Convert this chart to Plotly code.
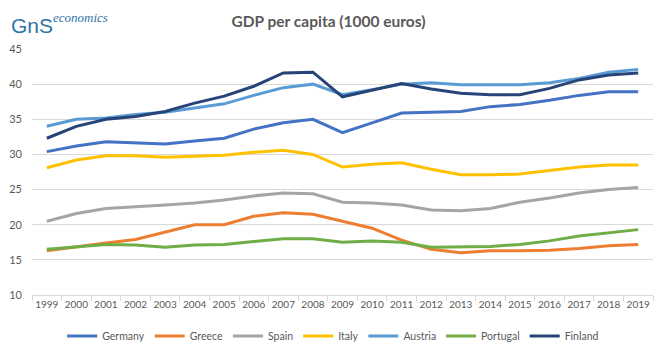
import plotly.graph_objects as go

years = list(range(1999, 2020))
germany = [30.4, 31.2, 31.8, 31.7, 31.5, 31.9, 32.3, 33.6, 34.5, 35.0, 33.1, 34.5, 35.9, 36.0, 36.1, 36.8, 37.1, 37.7, 38.4, 38.9, 38.9]
greece = [16.3, 16.9, 17.4, 17.9, 19.0, 20.0, 20.0, 21.2, 21.7, 21.5, 20.5, 19.5, 17.8, 16.5, 16.0, 16.3, 16.3, 16.35, 16.6, 17.0, 17.2]
spain = [20.5, 21.6, 22.3, 22.5, 22.8, 23.1, 23.5, 24.1, 24.5, 24.4, 23.2, 23.1, 22.8, 22.1, 22.0, 22.3, 23.2, 23.8, 24.5, 25.0, 25.3]
italy = [28.1, 29.2, 29.8, 29.8, 29.6, 29.7, 29.9, 30.3, 30.6, 30.0, 28.2, 28.6, 28.8, 27.9, 27.1, 27.1, 27.2, 27.7, 28.2, 28.5, 28.5]
austria = [34.0, 35.0, 35.2, 35.7, 36.0, 36.6, 37.2, 38.4, 39.5, 40.0, 38.5, 39.2, 40.0, 40.2, 39.9, 39.9, 39.9, 40.2, 40.8, 41.7, 42.1]
portugal = [16.5, 16.9, 17.2, 17.1, 16.8, 17.1, 17.2, 17.6, 18.0, 18.0, 17.5, 17.7, 17.5, 16.8, 16.8, 16.9, 17.2, 17.7, 18.4, 18.8, 19.3]
finland = [32.3, 34.0, 35.0, 35.4, 36.1, 37.3, 38.3, 39.7, 41.6, 41.7, 38.2, 39.2, 40.1, 39.3, 38.7, 38.5, 38.5, 39.4, 40.6, 41.3, 41.6]

series = [
    ("Germany", germany, "#4472C4"),
    ("Greece", greece, "#ED7D31"),
    ("Spain", spain, "#A5A5A5"),
    ("Italy", italy, "#FFC000"),
    ("Austria", austria, "#5B9BD5"),
    ("Portugal", portugal, "#70AD47"),
    ("Finland", finland, "#264478"),
]

FONT = "Lato, sans-serif"

fig = go.Figure()
for name, vals, col in series:
    fig.add_trace(go.Scatter(x=years, y=vals, name=name, mode="lines",
                             line=dict(color=col, width=3)))

fig.update_layout(
    width=661, height=359,
    margin=dict(l=32, r=8, t=49, b=62),
    paper_bgcolor="white", plot_bgcolor="white",
    font=dict(family=FONT, size=11, color="#595959"),
    title=dict(text="<b>GDP per capita (1000 euros)</b>", x=0.497, xanchor="center",
               y=0.94, yanchor="middle",
               font=dict(family=FONT, size=15.5, color="#595959")),
    showlegend=True,
    legend=dict(orientation="h", x=0.485, xanchor="center", y=-0.167, yanchor="middle",
                font=dict(family=FONT, size=10.5, color="#595959"), itemwidth=30,
                tracegroupgap=0),
    xaxis=dict(range=[1998.5, 2019.5], tickmode="array", tickvals=years,
               ticktext=[str(y) for y in years], showgrid=False, zeroline=False,
               showline=True, linecolor="#D9D9D9", linewidth=1, ticks="",
               automargin=False,
               tickfont=dict(family=FONT, size=10, color="#595959")),
    yaxis=dict(range=[10, 45], dtick=5, tick0=10, showgrid=True, gridcolor="#D9D9D9",
               gridwidth=1, zeroline=False, showline=False, ticks="",
               automargin=False, ticklabelstandoff=9,
               tickfont=dict(family=FONT, size=11, color="#595959")),
)
fig.update_xaxes(minor=dict(tickmode="linear", tick0=1998.5, dtick=1, ticks="outside",
                            ticklen=5, tickcolor="#D9D9D9", showgrid=False))

# logo
fig.add_annotation(xref="paper", yref="paper", x=-0.037, y=1.097, xanchor="left", yanchor="middle",
                   text="GnS", showarrow=False,
                   font=dict(family="Liberation Sans, sans-serif", size=21, color="#2E75A6"))
fig.add_annotation(xref="paper", yref="paper", x=0.031, y=1.128, xanchor="left", yanchor="middle",
                   text="<i>economics</i>", showarrow=False,
                   font=dict(family="Liberation Serif, serif", size=13, color="#2E75A6"))

fig.write_html("out.html", config={"displayModeBar": False},
               post_script="document.body.style.margin='0';")
